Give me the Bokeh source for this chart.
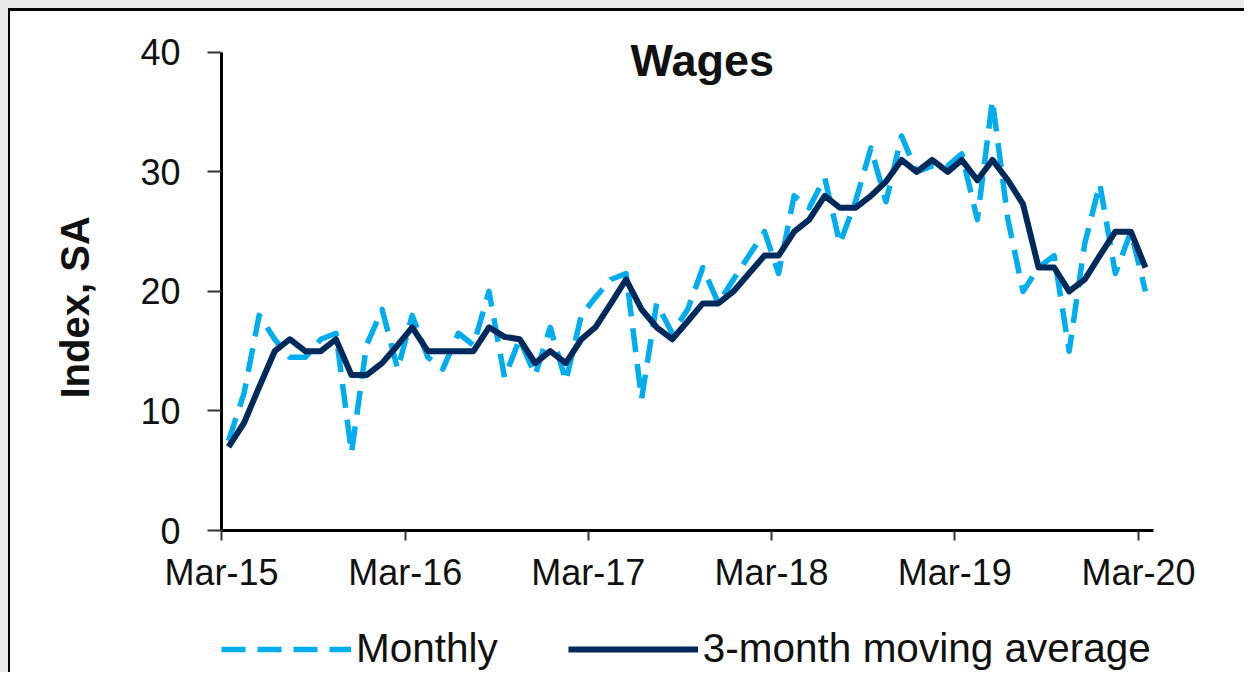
import pandas as pd
from bokeh.plotting import figure
from bokeh.layouts import column
from bokeh.models import (Range1d, FixedTicker, Legend, LegendItem, Label, Title,
                          DatetimeTickFormatter)
from bokeh.embed import file_html
from bokeh.resources import INLINE

# ---- data ----
first_month = "2015-03-01"
n_months = 61
monthly = [7.5, 11.5, 18, 16, 14.5, 14.5, 16, 16.5, 6.5, 15.5, 18.5, 13.5,
           18, 14.5, 13.5, 16.5, 15.5, 20, 12.8, 16, 13, 17, 12.5, 18,
           19.5, 21, 21.5, 11, 19, 16.5, 18.5, 22, 19, 21, 23, 25,
           21.5, 28, 27, 29.5, 24, 27.5, 32, 27.5, 33, 30, 30.5, 30.5,
           31.5, 26, 36, 26, 20, 22, 23, 15, 24, 29, 21.5, 25, 20]
moving_avg = [7, 9, 12, 15, 16, 15, 15, 16, 13, 13, 14, 15.5,
              17, 15, 15, 15, 15, 17, 16.2, 16, 14, 15, 14, 16,
              17, 19, 21, 18.5, 17, 16, 17.5, 19, 19, 20, 21.5, 23,
              23, 25, 26, 28, 27, 27, 28, 29.2, 31, 30, 31, 30,
              31, 29.3, 31, 29.3, 27.3, 22, 22, 20, 21, 23, 25, 25, 22]
tick_dates = ["2015-03-01", "2016-03-01", "2017-03-01", "2018-03-01", "2019-03-01", "2020-03-01"]
y_ticks = [0, 10, 20, 30, 40]
series_names = ["Monthly", "3-month moving average"]
chart_title = "Wages"
y_title = "Index, SA"

# mid-month observation dates
dates = pd.date_range(first_month, periods=n_months, freq="MS") + pd.Timedelta(days=14)

def ms(s):
    return pd.Timestamp(s).value / 1e6

FONT = "Liberation Sans"
LIGHT = "#00AEEF"
NAVY = "#00295C"
TXT = "#111111"
W = 1236
x_rng = (ms("2015-03-01"), ms("2020-03-31"))

p = figure(width=W, height=589, x_axis_type="datetime",
           output_backend="svg", toolbar_location=None,
           x_range=Range1d(*x_rng), y_range=Range1d(0, 43),
           min_border_left=210, min_border_right=93, min_border_top=5,
           min_border_bottom=70)
p.styles = {"border-top": "3px solid black", "border-left": "2px solid black"}
p.background_fill_color = "white"
p.border_fill_color = "white"
p.outline_line_color = None
p.xgrid.visible = False
p.ygrid.visible = False

line_styles = [dict(line_color=LIGHT, line_width=5.5, line_dash="24 12", line_join="round"),
               dict(line_color=NAVY, line_width=6, line_join="round")]

p.line(dates, monthly, **line_styles[0])
p.line(dates, moving_avg, **line_styles[1])

# axes
p.xaxis.ticker = FixedTicker(ticks=[ms(d) for d in tick_dates])
p.xaxis.formatter = DatetimeTickFormatter(years="%b-%y", months="%b-%y", days="%b-%y")
p.yaxis.ticker = FixedTicker(ticks=y_ticks)
p.yaxis.bounds = (0, 40)
for ax in (p.xaxis[0], p.yaxis[0]):
    ax.axis_line_color = "black"
    ax.axis_line_width = 3
    ax.major_tick_line_color = "#333333"
    ax.major_tick_line_width = 2
    ax.major_tick_in = 0
    ax.minor_tick_line_color = None
    ax.major_label_text_font = FONT
    ax.major_label_text_font_size = "36px"
    ax.major_label_text_color = TXT
p.xaxis.major_tick_out = 10
p.xaxis.major_label_standoff = 11
p.yaxis.major_tick_out = 14
p.yaxis.major_label_standoff = 27

# y-axis title as a side-panel title (sits a little below centre, as in the original)
p.add_layout(Title(text=y_title, align="left", offset=132, standoff=81,
                   text_font=FONT, text_font_size="40px", text_font_style="bold",
                   text_color=TXT), "left")

# chart title inside the plot area
p.add_layout(Label(x=ms("2017-10-14"), y=39.3, text=chart_title, text_align="center",
                   text_baseline="middle", text_font=FONT, text_font_size="45px",
                   text_font_style="bold", text_color=TXT))

# legend strip under the chart (its lines use the same series, scrolled out of view)
q = figure(width=W, height=75, x_axis_type="datetime", output_backend="svg",
           toolbar_location=None, x_axis_location=None, y_axis_location=None,
           min_border=0, x_range=Range1d(*x_rng), y_range=Range1d(100, 101))
q.styles = {"border-left": "2px solid black"}
q.outline_line_color = None
q.xgrid.visible = False
q.ygrid.visible = False
k1 = q.line(dates, monthly, **line_styles[0])
k2 = q.line(dates, moving_avg, **line_styles[1])
legend = Legend(items=[LegendItem(label=series_names[0], renderers=[k1]),
                       LegendItem(label=series_names[1], renderers=[k2])],
                orientation="horizontal", location=(0, 0),
                glyph_width=130, glyph_height=30, label_standoff=5, spacing=70,
                label_text_font=FONT, label_text_font_size="40.5px",
                label_text_color=TXT,
                border_line_color=None, background_fill_alpha=0,
                padding=0, margin=0)
q.add_layout(legend, "center")

page = column(p, q, spacing=0, styles={"margin-top": "8px", "margin-left": "8px",
                                       "box-shadow": "-4px -4px 0 4px #e9e9e9"})

open("out.html", "w").write(file_html(page, INLINE))
